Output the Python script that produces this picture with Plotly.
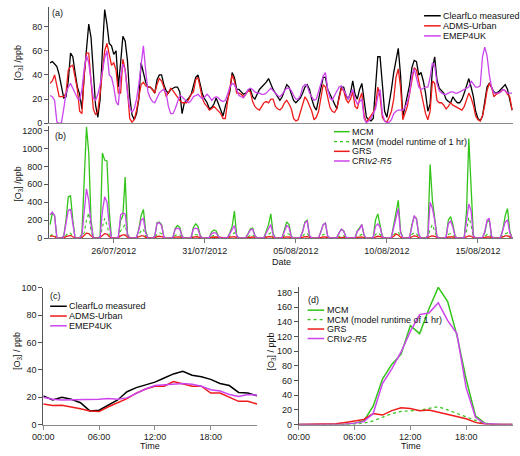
import pandas as pd
import plotly.graph_objects as go

W, H = 520, 456
FONT = "Liberation Sans, Arial, sans-serif"

# ---------------- Panel (a): hourly O3, sampled every 3 h from 22/07/2012 12:00 ----------------
series_start = "2012-07-22 12:00"
clearflo = [50, 51, 49, 47,
            40, 30, 21, 22, 35, 58, 55, 42,
            30, 24, 12, 40, 65, 82, 71, 38,
            15, 5, 20, 60, 94, 82, 66, 64,
            57, 60, 30, 50, 72, 68, 52, 22,
            7, 3, 8, 20, 50, 42, 34, 30,
            30, 28, 25, 36, 40, 40, 32, 27,
            25, 28, 29, 30, 30, 26, 8, 17,
            19, 21, 24, 30, 38, 40, 33, 24,
            20, 17, 12, 13, 16, 21, 16, 10,
            6, 14, 20, 26, 42, 38, 28, 28,
            26, 24, 25, 27, 28, 22, 20, 24,
            28, 30, 32, 34, 37, 32, 28, 25,
            22, 19, 22, 28, 32, 30, 24, 19,
            17, 19, 21, 25, 30, 32, 28, 20,
            14, 11, 20, 30, 38, 38, 28, 24,
            20, 17, 12, 22, 30, 30, 23, 20,
            25, 35, 24, 20, 28, 33, 18, 5,
            3, 2, 4, 30, 55, 55, 35, 10,
            5, 15, 28, 42, 52, 62, 40, 6,
            14, 22, 32, 46, 52, 51, 40, 42,
            35, 25, 10, 16, 45, 55, 36, 29,
            27, 25, 20, 18, 17, 22, 19, 17,
            17, 20, 25, 31, 37, 30, 22, 10,
            4, 2, 6, 18, 30, 33, 29, 26,
            25, 26, 28, 30, 32, 28, 20, 11]
adms = [33, 35, 40, 30,
        22, 22, 22, 25, 44, 47, 48, 38,
        28, 10, 8, 40, 58, 58, 35, 12,
        7, 10, 25, 45, 60, 66, 56, 48,
        50, 44, 25, 25, 53, 44, 28, 4,
        1, 3, 11, 22, 32, 34, 31, 30,
        30, 28, 25, 32, 37, 35, 30, 22,
        25, 29, 27, 24, 21, 19, 17, 17,
        17, 20, 24, 26, 36, 38, 28, 20,
        16, 14, 11, 12, 14, 12, 10, 8,
        4, 4, 18, 28, 40, 35, 25, 25,
        24, 22, 24, 27, 26, 18, 14, 12,
        11, 14, 17, 18, 17, 20, 20, 14,
        12, 11, 13, 17, 19, 16, 12, 4,
        2, 3, 10, 17, 22, 19, 14, 10,
        3, 5, 10, 22, 32, 30, 20, 13,
        10, 9, 12, 22, 29, 27, 20, 17,
        20, 26, 14, 12, 20, 25, 6, 1,
        4, 6, 9, 14, 30, 22, 5, 2,
        1, 5, 10, 20, 38, 45, 30, 3,
        9, 14, 25, 36, 46, 44, 34, 24,
        17, 8, 3, 10, 35, 33, 19, 17,
        17, 15, 12, 14, 17, 15, 14, 13,
        12, 11, 14, 20, 25, 21, 15, 6,
        3, 2, 6, 15, 27, 33, 30, 22,
        24, 25, 26, 28, 27, 24, 22, 11]
emep = [23, 22, 19, 1,
        0, 0.5, 12, 25, 30, 33, 29, 25,
        21, 19, 28, 45, 56, 50, 33, 21,
        19, 24, 32, 44, 54, 60, 40, 38,
        30, 18, 15, 38, 49, 44, 25, 13,
        9, 12, 20, 32, 50, 64, 44, 26,
        21, 18, 17, 21, 25, 27, 28, 25,
        14, 8, 8, 12, 18, 23, 22, 20,
        18, 17, 19, 22, 23, 24, 22, 20,
        22, 24, 22, 19, 21, 22, 21, 19,
        18, 19, 24, 30, 33, 32, 28, 23,
        22, 21, 24, 28, 29, 28, 26, 25,
        25, 24, 24, 25, 27, 29, 27, 25,
        23, 22, 24, 27, 29, 29, 27, 23,
        20, 20, 23, 30, 32, 31, 25, 22,
        19, 20, 26, 33, 39, 42, 28, 21,
        19, 23, 27, 30, 31, 28, 24, 20,
        24, 28, 20, 16, 18, 20, 4, 0.5,
        2, 4, 8, 12, 22, 28, 8, 2,
        0.5, 1, 3, 8, 10, 11, 11, 11,
        13, 18, 25, 40, 45, 36, 30, 28,
        29, 30, 30, 38, 50, 48, 33, 27,
        25, 24, 24, 25, 26, 26, 25, 25,
        26, 27, 28, 29, 30, 35, 32, 30,
        30, 31, 55, 63, 56, 40, 30, 25,
        25, 25, 26, 28, 27, 25, 25, 25]

# ---------------- Panel (b): box-model O3, same 3-hourly time base ----------------
mcm = [150, 280, 250, 0,
       0, 0, 20, 200, 460, 470, 200, 0,
       0, 0, 50, 600, 1240, 950, 200, 0,
       0, 0, 20, 950, 870, 860, 300, 0,
       0, 0, 10, 200, 250, 680, 50, 0,
       0, 0, 5, 100, 250, 320, 80, 0,
       0, 0, 20, 170, 180, 150, 10, 0,
       0, 0, 10, 110, 140, 120, 20, 0,
       0, 0, 10, 120, 160, 130, 30, 0,
       0, 0, 10, 70, 90, 80, 20, 0,
       0, 0, 5, 60, 130, 300, 30, 0,
       0, 0, 5, 50, 100, 110, 30, 0,
       0, 0, 5, 80, 150, 270, 50, 0,
       0, 0, 10, 100, 180, 150, 20, 0,
       0, 0, 10, 80, 180, 200, 30, 0,
       0, 0, 5, 70, 150, 170, 20, 0,
       0, 0, 5, 60, 100, 80, 10, 0,
       0, 0, 5, 80, 110, 150, 30, 0,
       0, 0, 10, 200, 270, 150, 20, 0,
       0, 0, 10, 150, 280, 420, 80, 0,
       0, 0, 10, 150, 240, 220, 40, 0,
       0, 0, 30, 820, 420, 200, 20, 0,
       0, 0, 10, 200, 240, 150, 20, 0,
       0, 0, 10, 300, 1110, 500, 30, 0,
       0, 0, 5, 60, 180, 200, 20, 0,
       0, 0, 10, 100, 250, 330, 80, 0]
mcm_1h = [20, 40, 30, 0,
          0, 0, 5, 30, 60, 55, 20, 0,
          0, 0, 5, 60, 200, 280, 80, 0,
          0, 0, 5, 120, 220, 150, 40, 0,
          0, 0, 5, 80, 120, 150, 20, 0,
          0, 0, 3, 40, 80, 100, 20, 0,
          0, 0, 5, 40, 60, 50, 5, 0,
          0, 0, 3, 30, 40, 35, 5, 0,
          0, 0, 3, 30, 40, 35, 5, 0,
          0, 0, 2, 20, 30, 25, 5, 0,
          0, 0, 2, 20, 40, 60, 10, 0,
          0, 0, 2, 15, 30, 35, 8, 0,
          0, 0, 2, 25, 45, 60, 10, 0,
          0, 0, 2, 30, 50, 45, 5, 0,
          0, 0, 2, 25, 50, 55, 8, 0,
          0, 0, 2, 20, 40, 45, 5, 0,
          0, 0, 2, 15, 30, 25, 3, 0,
          0, 0, 2, 20, 30, 40, 5, 0,
          0, 0, 2, 40, 60, 40, 5, 0,
          0, 0, 3, 40, 60, 70, 15, 0,
          0, 0, 2, 40, 60, 50, 8, 0,
          0, 0, 5, 100, 150, 80, 5, 0,
          0, 0, 2, 40, 50, 35, 5, 0,
          0, 0, 3, 80, 230, 150, 10, 0,
          0, 0, 2, 20, 40, 45, 5, 0,
          0, 0, 3, 30, 50, 60, 15, 0]
grs = [20, 25, 15, 2,
       0, 0, 3, 15, 25, 30, 15, 2,
       0, 0, 5, 30, 55, 50, 20, 2,
       0, 0, 5, 30, 50, 45, 15, 2,
       0, 0, 3, 25, 35, 35, 10, 2,
       0, 0, 3, 15, 25, 25, 8, 1,
       0, 0, 3, 15, 20, 15, 3, 0,
       0, 0, 2, 10, 15, 12, 3, 0,
       0, 0, 2, 10, 15, 12, 3, 0,
       0, 0, 2, 8, 12, 10, 3, 0,
       0, 0, 2, 10, 15, 15, 3, 0,
       0, 0, 2, 8, 12, 12, 3, 0,
       0, 0, 2, 10, 15, 15, 3, 0,
       0, 0, 2, 10, 15, 12, 3, 0,
       0, 0, 2, 10, 15, 15, 3, 0,
       0, 0, 2, 8, 12, 12, 3, 0,
       0, 0, 2, 6, 10, 8, 2, 0,
       0, 0, 2, 8, 12, 12, 3, 0,
       0, 0, 3, 15, 20, 15, 3, 0,
       0, 0, 3, 20, 45, 35, 10, 0,
       0, 0, 2, 15, 25, 20, 5, 0,
       0, 0, 3, 20, 25, 20, 5, 0,
       0, 0, 2, 12, 15, 12, 3, 0,
       0, 0, 3, 15, 25, 20, 5, 0,
       0, 0, 2, 8, 12, 12, 3, 0,
       0, 0, 3, 15, 25, 25, 8, 0]
cri = [260, 290, 250, 0,
       0, 0, 20, 170, 310, 320, 150, 0,
       0, 0, 30, 300, 550, 420, 150, 0,
       0, 0, 10, 300, 460, 400, 150, 0,
       0, 0, 10, 260, 280, 270, 40, 0,
       0, 0, 5, 90, 200, 220, 60, 0,
       0, 0, 20, 165, 170, 140, 10, 0,
       0, 0, 10, 100, 110, 100, 15, 0,
       0, 0, 10, 100, 110, 100, 20, 0,
       0, 0, 8, 50, 60, 55, 15, 0,
       0, 0, 5, 50, 100, 140, 25, 0,
       0, 0, 5, 45, 90, 100, 25, 0,
       0, 0, 5, 60, 110, 150, 40, 0,
       0, 0, 10, 80, 140, 120, 15, 0,
       0, 0, 10, 70, 170, 190, 25, 0,
       0, 0, 5, 70, 150, 165, 20, 0,
       0, 0, 5, 55, 100, 80, 10, 0,
       0, 0, 5, 75, 100, 150, 30, 0,
       0, 0, 10, 130, 160, 120, 15, 0,
       0, 0, 10, 130, 250, 330, 60, 0,
       0, 0, 10, 150, 250, 210, 35, 0,
       0, 0, 20, 400, 330, 200, 15, 0,
       0, 0, 10, 160, 190, 120, 15, 0,
       0, 0, 10, 200, 380, 300, 20, 0,
       0, 0, 5, 70, 200, 220, 20, 0,
       0, 0, 10, 90, 180, 200, 60, 0]

date_ticks = ["2012-07-26", "2012-07-31", "2012-08-05", "2012-08-10", "2012-08-15"]
date_labels = ["26/07/2012", "31/07/2012", "05/08/2012", "10/08/2012", "15/08/2012"]

# ---------------- Panels (c), (d): mean diurnal cycles ----------------
hours = list(range(24))
clearflo_d = [21, 18, 20, 18.5, 16, 10, 10.5, 14, 18, 24, 27, 29, 31, 34, 37, 39, 36, 35, 33, 30, 28.5, 23.5, 23, 21]
adms_d = [15, 14, 14.2, 13, 11.5, 10, 9.5, 13, 16, 19, 23, 26, 28, 28, 31.5, 30, 28, 28, 23, 23, 20, 17, 17, 15]
emep_d = [20, 18.5, 18, 18, 18.5, 18, 18.5, 19, 18.5, 19.5, 23, 26, 28.5, 29, 29.5, 30, 29.5, 28, 25.5, 24.5, 22, 20.5, 22, 21.5]
mcm_d = [0, 0, 0, 0, 0, 0.5, 2, 5, 25, 62, 82, 96, 135, 124, 158, 187, 168, 122, 62, 12, 2, 0, 0, 0]
mcm_1h_d = [0, 0, 0, 0, 0, 0, 0, 2, 5, 10, 15, 18, 18.5, 19.5, 22, 24.5, 20, 15, 10, 5, 1, 0, 0, 0]
grs_d = [0, 0, 0, 0, 1, 3, 4.5, 7, 15, 13, 19, 23, 22, 19, 20, 17, 14, 11, 8, 3, 0.5, 0, 0, 0]
cri_d = [0, 0, 0, 0, 0, 0.5, 2, 4, 15, 56, 76, 99, 127, 150, 152, 166, 142, 124, 50, 10, 1, 0, 0, 0]
hour_ticks = [0, 6, 12, 18]
hour_labels = ["00:00", "06:00", "12:00", "18:00"]

BLACK = "#000000"
RED = "#ee1b1b"
MAG = "#cc44ee"
GREEN = "#33c41a"

times = pd.date_range(series_start, periods=len(clearflo), freq="3h")

fig = go.Figure()


def line(x, y, color, xa, ya, width=1.3, dash="solid"):
    fig.add_trace(go.Scatter(x=x, y=y, mode="lines", xaxis=xa, yaxis=ya,
                             line=dict(color=color, width=width, dash=dash),
                             showlegend=False, hoverinfo="skip"))


line(times, clearflo, BLACK, "x", "y")
line(times, adms, RED, "x", "y")
line(times, emep, MAG, "x", "y")

line(times, mcm, GREEN, "x2", "y2")
line(times, mcm_1h, GREEN, "x2", "y2", width=1.1, dash="dot")
line(times, grs, RED, "x2", "y2")
line(times, cri, MAG, "x2", "y2")

line(hours, clearflo_d, BLACK, "x3", "y3", 1.5)
line(hours, adms_d, RED, "x3", "y3", 1.5)
line(hours, emep_d, MAG, "x3", "y3", 1.5)

line(hours, mcm_d, GREEN, "x4", "y4", 1.5)
line(hours, mcm_1h_d, GREEN, "x4", "y4", 1.2, dash="dot")
line(hours, grs_d, RED, "x4", "y4", 1.5)
line(hours, cri_d, MAG, "x4", "y4", 1.5)


def px(x):
    return x / W


def py(y):
    return 1 - y / H


tick_font = dict(family=FONT, size=9, color="#222")
base = dict(showgrid=False, zeroline=False, showline=True, linewidth=1,
            ticks="outside", ticklen=4, tickwidth=1, tickfont=tick_font, fixedrange=True)
ycol = "#555"
xcol = "#8a8a8a"

t_range = ["2012-07-22 10:50", "2012-08-16 22:26"]

fig.update_layout(
    width=W, height=H, margin=dict(l=0, r=0, t=0, b=0),
    paper_bgcolor="white", plot_bgcolor="white",
    font=dict(family=FONT, size=9, color="#222"),
    xaxis=dict(base, type="date", range=t_range, domain=[px(39), px(513)], anchor="y",
               showticklabels=False, ticks="", linecolor=xcol),
    yaxis=dict(base, range=[0, 96], domain=[py(121), py(2.2)], anchor="x",
               tickvals=[0, 20, 40, 60, 80], linecolor=ycol, tickcolor=ycol),
    xaxis2=dict(base, type="date", range=t_range, domain=[px(39), px(513)], anchor="y2",
                tickvals=date_ticks, ticktext=date_labels, linecolor="#777", tickcolor="#777"),
    yaxis2=dict(base, range=[0, 1247], domain=[py(238.3), py(124)], anchor="x2",
                tickvals=[0, 200, 400, 600, 800, 1000, 1200], linecolor=ycol, tickcolor=ycol),
    xaxis3=dict(base, range=[0, 23], domain=[px(33), px(251.5)], anchor="y3",
                tickvals=hour_ticks, ticktext=hour_labels, linecolor=xcol, tickcolor=xcol),
    yaxis3=dict(base, range=[0, 100], domain=[py(429), py(289)], anchor="x3",
                tickvals=[0, 20, 40, 60, 80, 100], linecolor=ycol, tickcolor=ycol),
    xaxis4=dict(base, range=[0, 23], domain=[px(294), px(512.5)], anchor="y4",
                tickvals=hour_ticks, ticktext=hour_labels, linecolor=xcol, tickcolor=xcol),
    yaxis4=dict(base, range=[0, 188], domain=[py(429), py(288)], anchor="x4",
                tickvals=[0, 20, 40, 60, 80, 100, 120, 140, 160, 180], linecolor=ycol, tickcolor=ycol),
)

ann = []
shapes = []


def text(x, y, s, anchor="left", angle=0, size=9):
    ann.append(dict(x=px(x), y=py(y), xref="paper", yref="paper", text=s, showarrow=False,
                    xanchor=anchor, yanchor="middle", textangle=angle, borderpad=0,
                    font=dict(family=FONT, size=size, color="#111")))


def legend(x0, x1, y, color, s, dash="solid", width=1.5):
    shapes.append(dict(type="line", xref="paper", yref="paper", x0=px(x0), x1=px(x1),
                       y0=py(y), y1=py(y), line=dict(color=color, width=width, dash=dash)))
    text(x1 + 1.5, y, s)


# panel labels
text(41, 8, "(a)")
text(44, 134, "(b)")
text(39, 298, "(c)")
text(302, 302, "(d)")

# axis titles
text(8, 59, "[O<sub>3</sub>] /ppb", anchor="center", angle=-90)
text(8, 183, "[O<sub>3</sub>] /ppb", anchor="center", angle=-90)
text(6, 354, "[O<sub>3</sub>] / ppb", anchor="center", angle=-90)
text(266, 354, "[O<sub>3</sub>] / ppb", anchor="center", angle=-90)
text(276, 263, "Date", anchor="center")
text(142, 451, "Time", anchor="center")
text(409, 451, "Time", anchor="center")

# legends
legend(422, 439, 11, BLACK, "ClearfLo measured")
legend(422, 439, 21.3, RED, "ADMS-Urban")
legend(422, 439, 31.6, MAG, "EMEP4UK")

legend(330, 346, 129.5, GREEN, "MCM")
legend(330, 346, 139.7, GREEN, "MCM (model runtime of 1 hr)", dash="dot", width=1.2)
legend(330, 346, 149.6, RED, "GRS")
legend(330, 346, 159.5, MAG, "CRI<i>v2-R5</i>")

legend(40, 57, 308, BLACK, "ClearfLo measured")
legend(40, 57, 318, RED, "ADMS-Urban")
legend(40, 57, 328, MAG, "EMEP4UK")

legend(303, 320, 312, GREEN, "MCM")
legend(303, 320, 321.7, GREEN, "MCM (model runtime of 1 hr)", dash="dot", width=1.2)
legend(303, 320, 331.3, RED, "GRS")
legend(303, 320, 341, MAG, "CRI<i>v2-R5</i>")

fig.update_layout(annotations=ann, shapes=shapes)
fig.write_html("out.html", config={"displayModeBar": False},
               post_script="document.body.style.margin='0';document.body.style.padding='0';")
